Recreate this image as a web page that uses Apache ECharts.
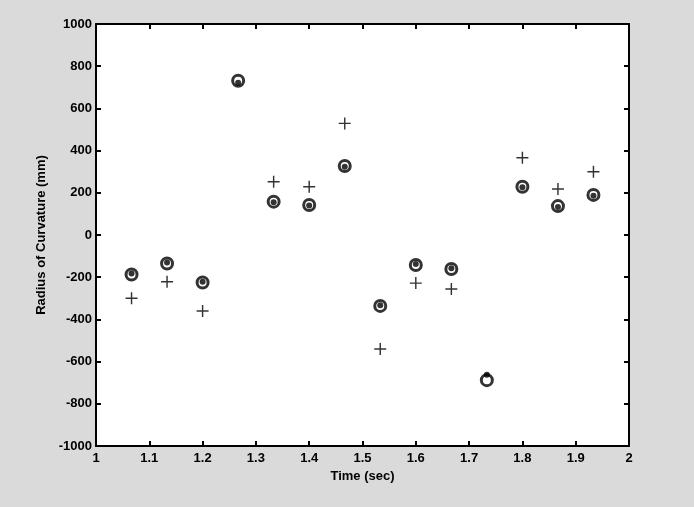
<!DOCTYPE html>
<html>
<head>
<meta charset="utf-8">
<script src="https://cdn.jsdelivr.net/npm/echarts@6/dist/echarts.min.js"></script>
<style>
  html, body { margin: 0; padding: 0; background: #dadada; }
  #main { width: 694px; height: 507px; }
</style>
</head>
<body>
<div id="main"></div>
<script>
// sample times (sec)
var times = [1.0667, 1.1333, 1.2, 1.2667, 1.3333, 1.4, 1.4667, 1.5333, 1.6, 1.6667, 1.7333, 1.8, 1.8667, 1.9333];
// circles
var circleVals = [-187, -135, -225, 731, 158, 142, 327, -336, -142, -161, -688, 229, 137, 190];
// dots drawn inside circles
var dotVals = [-182, -130, -222, 722, 155, 140, 323, -333, -138, -158, -662, 226, 133, 186];
// crosses
var plusVals = [-300, -222, -360, null, 252, 229, 529, -540, -228, -256, null, 366, 218, 300];

var xTicks = [1, 1.1, 1.2, 1.3, 1.4, 1.5, 1.6, 1.7, 1.8, 1.9, 2];
var yTicks = [-1000, -800, -600, -400, -200, 0, 200, 400, 600, 800, 1000];

function pairs(vals) {
    return times.map(function (t, i) { return [t, vals[i]]; });
}

var labelFont = {color: '#000', fontFamily: 'Liberation Sans', fontWeight: 'bold', fontSize: 13};
var axisLine = {show: true, onZero: false, lineStyle: {color: '#000', width: 2}};
var tick = {show: true, inside: true, length: 5, lineStyle: {color: '#000', width: 2}};

var myChart = echarts.init(document.getElementById('main'));
myChart.setOption({
    animation: false,
    grid: {
        left: 96, top: 24, right: 65, bottom: 61,
        show: true, backgroundColor: '#fff', borderWidth: 0
    },
    xAxis: [
        {
            type: 'value', min: xTicks[0], max: xTicks[xTicks.length - 1], interval: 0.1,
            name: 'Time (sec)', nameLocation: 'middle', nameGap: 22,
            nameTextStyle: labelFont,
            axisLine: axisLine, axisTick: tick, splitLine: {show: false},
            axisLabel: Object.assign({margin: 6, formatter: function (v) {
                return String(Math.round(v * 10) / 10);
            }}, labelFont)
        },
        {
            type: 'value', min: xTicks[0], max: xTicks[xTicks.length - 1], interval: 0.1, position: 'top',
            axisLine: axisLine, axisTick: tick, splitLine: {show: false},
            axisLabel: {show: false}
        }
    ],
    yAxis: [
        {
            type: 'value', min: yTicks[0], max: yTicks[yTicks.length - 1], interval: 200,
            name: 'Radius of Curvature (mm)', nameLocation: 'middle', nameGap: 48,
            nameTextStyle: labelFont,
            axisLine: axisLine, axisTick: tick, splitLine: {show: false},
            axisLabel: Object.assign({margin: 4, formatter: function (v) { return String(v); }}, labelFont)
        },
        {
            type: 'value', min: yTicks[0], max: yTicks[yTicks.length - 1], interval: 200, position: 'right',
            axisLine: axisLine, axisTick: tick, splitLine: {show: false},
            axisLabel: {show: false}
        }
    ],
    series: [
        {
            name: 'plus', type: 'scatter', data: pairs(plusVals),
            symbol: 'path://M4.4,0h1.2v4.4h4.4v1.2h-4.4v4.4h-1.2v-4.4h-4.4v-1.2h4.4z',
            symbolSize: 12,
            itemStyle: {color: '#000'}
        },
        {
            name: 'circle', type: 'scatter', data: pairs(circleVals),
            symbol: 'circle', symbolSize: 11,
            itemStyle: {color: '#fff', borderColor: '#000', borderWidth: 3}
        },
        {
            name: 'dot', type: 'scatter', data: pairs(dotVals),
            symbol: 'circle', symbolSize: 6,
            itemStyle: {color: '#000'}
        }
    ]
});
</script>
</body>
</html>
